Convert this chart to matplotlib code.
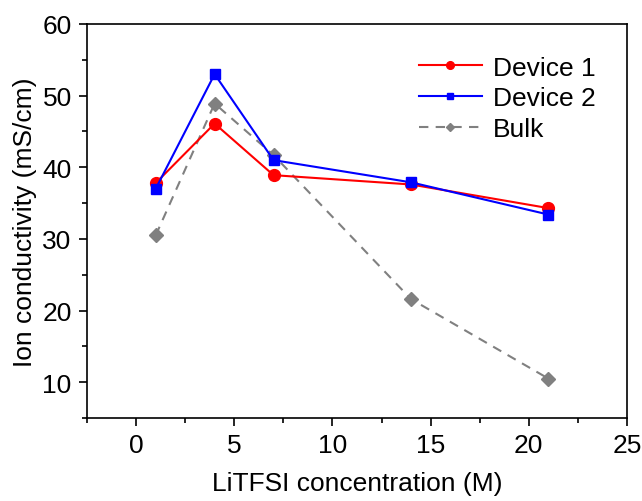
import matplotlib
matplotlib.use("Agg")
import matplotlib.pyplot as plt
from matplotlib.ticker import MultipleLocator

plt.rcParams['font.family'] = ['Liberation Sans', 'DejaVu Sans']

conc = [1, 4, 7, 14, 21]
device1 = [37.8, 46.1, 38.9, 37.6, 34.3]
device2 = [37.0, 53.0, 41.0, 37.9, 33.4]
bulk = [30.5, 48.9, 41.7, 21.6, 10.5]

fig = plt.figure(figsize=(6.42, 5.02), dpi=100)
ax = fig.add_axes([0.1355, 0.1653, 0.8411, 0.7849])

ax.plot(conc, bulk, color='#808080', linestyle=(0, (4.5, 3.5)), linewidth=1.5,
        marker='D', markersize=7, label='Bulk', zorder=2)
ax.plot(conc, device1, color='#ff0000', linewidth=1.5, marker='o', markersize=8.5,
        label='Device 1', zorder=3)
ax.plot(conc, device2, color='#0000ff', linewidth=1.5, marker='s', markersize=7.5,
        label='Device 2', zorder=4)

ax.set_xlim(-2.5, 25)
ax.set_ylim(5, 60)
ax.xaxis.set_major_locator(MultipleLocator(5))
ax.xaxis.set_minor_locator(MultipleLocator(2.5))
ax.yaxis.set_major_locator(MultipleLocator(10))
ax.yaxis.set_minor_locator(MultipleLocator(5))
ax.tick_params(which='both', direction='out', top=False, right=False, labelsize=19, width=1.2)
ax.tick_params(which='major', length=6, pad=5)
ax.tick_params(which='minor', length=3.5)
for s in ax.spines.values():
    s.set_linewidth(1.2)

ax.set_xlabel('LiTFSI concentration (M)', fontsize=19, labelpad=10)
ax.set_ylabel('Ion conductivity (mS/cm)', fontsize=19, labelpad=4)

h, l = ax.get_legend_handles_labels()
order = [1, 2, 0]
ax.legend([h[i] for i in order], [l[i] for i in order], loc='upper right',
          frameon=False, fontsize=19, handlelength=2.4, labelspacing=0.25,
          borderaxespad=0.8, handletextpad=0.4, markerscale=0.65)

fig.savefig('out.png', dpi=100)
